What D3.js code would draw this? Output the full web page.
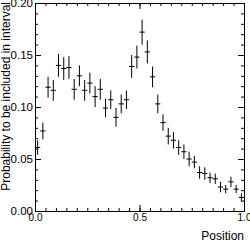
<!DOCTYPE html>
<html>
<head>
<meta charset="utf-8">
<script src="https://cdn.jsdelivr.net/npm/d3@7"></script>
<style>
  body { margin: 0; background: #fff; }
  svg { display: block; font-family: "Liberation Sans", Arial, sans-serif; }
</style>
</head>
<body>
<div id="chart"></div>
<script>
// bin centres (40 bins of 0.025) and measured values
var binCenters = [0.0125, 0.0375, 0.0625, 0.0875, 0.1125, 0.1375, 0.1625, 0.1875, 0.2125, 0.2375,
                  0.2625, 0.2875, 0.3125, 0.3375, 0.3625, 0.3875, 0.4125, 0.4375, 0.4625, 0.4875,
                  0.5125, 0.5375, 0.5625, 0.5875, 0.6125, 0.6375, 0.6625, 0.6875, 0.7125, 0.7375,
                  0.7625, 0.7875, 0.8125, 0.8375, 0.8625, 0.8875, 0.9125, 0.9375, 0.9625, 0.9875];
var values = [0.061, 0.077, 0.119, 0.116, 0.140, 0.137, 0.138, 0.117, 0.130, 0.116,
              0.123, 0.110, 0.117, 0.099, 0.107, 0.090, 0.103, 0.107, 0.139, 0.148,
              0.172, 0.153, 0.129, 0.103, 0.085, 0.072, 0.068, 0.061, 0.057, 0.050,
              0.047, 0.037, 0.036, 0.032, 0.031, 0.023, 0.021, 0.028, 0.021, 0.013];
var errors = [0.007, 0.008, 0.010, 0.010, 0.011, 0.011, 0.011, 0.010, 0.010, 0.010,
              0.010, 0.010, 0.010, 0.009, 0.009, 0.009, 0.009, 0.009, 0.011, 0.011,
              0.012, 0.011, 0.010, 0.009, 0.008, 0.008, 0.008, 0.007, 0.007, 0.007,
              0.006, 0.006, 0.006, 0.005, 0.005, 0.005, 0.004, 0.005, 0.004, 0.004];
var binWidth = 0.025;

var xMajor = [0, 0.5, 1.0];
var yMajor = [0, 0.05, 0.10, 0.15, 0.20];
var xMinor = d3.range(0, 21).map(function(i) { return i * 0.05; });
var yMinor = d3.range(0, 21).map(function(i) { return i * 0.01; });

// frame edges
var W = 250, H = 243;
var frame = { left: 35, right: 244, top: 3, bottom: 211 };

var svg = d3.select("#chart").append("svg")
            .attr("width", W)
            .attr("height", H);

var xScale = d3.scaleLinear().domain([0, 1]).range([frame.left, frame.right]);
var yScale = d3.scaleLinear().domain([0, 0.2]).range([frame.bottom, frame.top]);

// minor ticks (all four sides, pointing inward)
function noLabel() { return ""; }
svg.append("g").attr("transform", "translate(0," + frame.bottom + ")")
   .call(d3.axisBottom(xScale).tickValues(xMinor).tickSize(-3).tickSizeOuter(0).tickFormat(noLabel));
svg.append("g").attr("transform", "translate(0," + frame.top + ")")
   .call(d3.axisTop(xScale).tickValues(xMinor).tickSize(-3).tickSizeOuter(0).tickFormat(noLabel));
svg.append("g").attr("transform", "translate(" + frame.left + ",0)")
   .call(d3.axisLeft(yScale).tickValues(yMinor).tickSize(-3).tickSizeOuter(0).tickFormat(noLabel));
svg.append("g").attr("transform", "translate(" + frame.right + ",0)")
   .call(d3.axisRight(yScale).tickValues(yMinor).tickSize(-3).tickSizeOuter(0).tickFormat(noLabel));

// major ticks
var xAxis = svg.append("g").attr("transform", "translate(0," + frame.bottom + ")")
   .call(d3.axisBottom(xScale).tickValues(xMajor).tickSize(-6).tickSizeOuter(0)
          .tickPadding(3).tickFormat(d3.format(".1f")));
svg.append("g").attr("transform", "translate(0," + frame.top + ")")
   .call(d3.axisTop(xScale).tickValues(xMajor).tickSize(-6).tickSizeOuter(0).tickFormat(noLabel));
var yAxis = svg.append("g").attr("transform", "translate(" + frame.left + ",0)")
   .call(d3.axisLeft(yScale).tickValues(yMajor).tickSize(-6).tickSizeOuter(0)
          .tickPadding(2).tickFormat(d3.format(".2f")));
svg.append("g").attr("transform", "translate(" + frame.right + ",0)")
   .call(d3.axisRight(yScale).tickValues(yMajor).tickSize(-6).tickSizeOuter(0).tickFormat(noLabel));

svg.selectAll(".domain").attr("stroke", "#000");
svg.selectAll(".tick line").attr("stroke", "#000");
xAxis.selectAll("text").style("font-size", "10px").attr("fill", "#000");
yAxis.selectAll("text").style("font-size", "11.5px").attr("fill", "#000");

// data points with error bars
var pts = svg.append("g").selectAll("g")
             .data(values)
             .enter().append("g");

pts.append("line")
   .attr("x1", function(d, i) { return xScale(binCenters[i]); })
   .attr("x2", function(d, i) { return xScale(binCenters[i]); })
   .attr("y1", function(d, i) { return yScale(d - errors[i]); })
   .attr("y2", function(d, i) { return yScale(d + errors[i]); })
   .attr("stroke", "#000")
   .attr("stroke-width", 1);

pts.append("line")
   .attr("x1", function(d, i) { return xScale(binCenters[i] - binWidth / 2); })
   .attr("x2", function(d, i) { return xScale(binCenters[i] + binWidth / 2); })
   .attr("y1", function(d) { return yScale(d); })
   .attr("y2", function(d) { return yScale(d); })
   .attr("stroke", "#000")
   .attr("stroke-width", 1);

// x axis title
svg.append("text")
   .attr("x", frame.right)
   .attr("y", 240)
   .attr("text-anchor", "end")
   .style("font-size", "12px")
   .text("Position");

// y axis title
svg.append("text")
   .attr("transform", "translate(9.5," + (frame.top - 1) + ") rotate(-90)")
   .attr("text-anchor", "end")
   .style("font-size", "12px")
   .text("Probability to be included in interval");
</script>
</body>
</html>
